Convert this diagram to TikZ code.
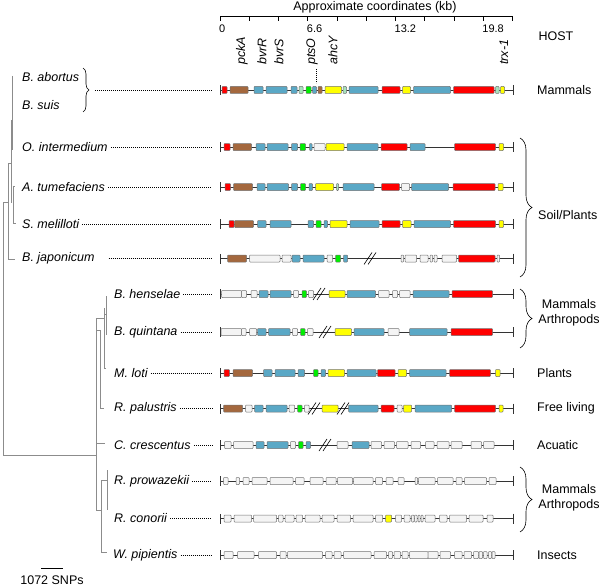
\documentclass[tikz,border=0pt]{standalone}
\usepackage{fontspec}
\setmainfont{Liberation Sans}
\usetikzlibrary{arrows.meta, positioning, decorations.pathreplacing}
\definecolor{gR}{HTML}{FF0000}
\definecolor{gB}{HTML}{5AA8C6}
\definecolor{gN}{HTML}{A4683E}
\definecolor{gY}{HTML}{FFFF00}
\definecolor{gG}{HTML}{00EE00}
\definecolor{gP}{HTML}{A6E3BC}
\definecolor{gW}{HTML}{F4F4F4}
\tikzset{
  gene/.style={draw=black!55, line width=0.5pt, rounded corners=0.8pt},
  backbone/.style={draw=black!80, line width=0.7pt, arrows={Bar[width=10pt]-Bar[width=10pt]}},
  leader/.style={line width=0.6pt, dash pattern=on 0.7pt off 1.3pt, shorten <=3pt, shorten >=7.5pt},
  branch/.style={draw=black!45, line width=0.6pt},
  spec/.style={anchor=west, font=\fontsize{12.5}{15}\selectfont\itshape},
  host/.style={anchor=west},
  grp/.style={decorate, decoration={brace, amplitude=#1}, line width=0.6pt},
  grp/.default=12,
}
% one genome track: name, y, start/end/colour list
\newcommand{\track}[3]{%
  \coordinate (#1) at (219.5,#2);
  \draw[backbone] (#1) -- (514,#2);
  \foreach \a/\b/\c in {#3} \draw[gene, fill=\c] (\a,#2-3.5) rectangle (\b,#2+3.5);
}
\newcommand{\cutmark}[2]{\draw[line width=0.6pt] (#1-7,#2+6) -- (#1+1,#2-6) (#1-3,#2+6) -- (#1+5,#2-6);}

\begin{document}
\begin{tikzpicture}[x=1pt, y=-1pt, every node/.style={font=\fontsize{12.5}{15}\selectfont, inner sep=0pt}]
  \useasboundingbox (0,0) rectangle (603,586);

  % axis
  \node (title) at (375,7) {Approximate coordinates (kb)};
  \draw[line width=0.6pt] (220,16.5) -- (513,16.5);
  \foreach \i in {0,...,10} \draw[line width=0.6pt] (220+29.25*\i,16.5) -- ++(0,4.5);
  \foreach \v [count=\i from 0] in {0,6.6,13.2,19.8}
    \node[anchor=west, font=\fontsize{11}{12}\selectfont] (tick\i) at (219+87.75*\i,29) {\v};
  \node (host) at (556,36) {HOST};

  % gene names
  \foreach \n/\x in {pckA/242, bvrR/262, bvrS/279, ptsO/312, ahcY/333, trx-1/504}
    \node[rotate=90, anchor=west, font=\fontsize{12.5}{15}\selectfont\itshape] (n\n) at (\x,65) {\n};
  \coordinate (pts) at (316,83);
  \draw[line width=0.6pt, dash pattern=on 0.7pt off 1.3pt] (316,69) -- (pts);

  % tracks
  \track{g1}{90}{222/227/gR, 230/248/gN, 254/263/gB, 266/287/gB, 291/297/gB, 299/303/gP, 306/311/gG,
    312.5/316.5/gB, 318/322/gN, 325/341.5/gY, 343/346.5/gP, 349/378/gB, 382/400/gR, 402.5/410.5/gY,
    413.5/450.5/gB, 453.5/494/gR, 495.5/499/gP, 500.5/504.5/gY}
  \track{g2}{147}{224/230/gR, 233/251.5/gN, 256/265/gB, 267/288/gB, 291.5/297.5/gB, 300/305.5/gG,
    309.5/312/gB, 314/325/gW, 326/344/gY, 347/378/gB, 381/407/gR, 410/425/gB, 454.5/495.5/gR, 499/503.5/gY}
  \track{g3}{187}{225/230.5/gR, 233.5/252.5/gN, 257/265/gB, 267/288.5/gB, 291.5/297.5/gB, 300.5/305.5/gG,
    309/312.5/gB, 315.5/333.5/gY, 336.5/338.5/gP, 343/374/gB, 381.5/399.5/gR, 401.5/409.5/gW,
    411.5/448.5/gB, 453/495/gR, 498/503/gY}
  \track{g4}{224}{229/234/gR, 234.5/253.5/gN, 257.5/266/gB, 270/291/gB, 308/313.5/gB, 316/321/gG,
    324/327.5/gB, 330/347/gY, 350/379/gB, 382/400/gR, 402.5/411/gY, 414/450.5/gB, 453.5/495.5/gR, 499/503.5/gY}
  \track{g5}{258.5}{227.5/246.5/gN, 249.5/280/gW, 282/291/gW, 292/300/gB, 303/324/gB, 327/332.5/gW,
    335.5/340.5/gG, 343.5/347.5/gB, 401/403.5/gW, 405/416.5/gW, 420/428/gW, 430/432.5/gW, 434/437/gW,
    442/456.5/gW, 458.5/495/gR, 497/499.5/gW}
  \cutmark{371}{258.5}
  \track{g6}{294}{221.5/241.5/gW, 241.5/246.5/gW, 251/257/gW, 259/268/gB, 270/291/gB, 293.5/298.5/gW,
    302/306.5/gG, 308.5/313.5/gW, 329/345/gY, 347/375.5/gB, 378.5/389/gW, 392.5/397.5/gW, 399.5/410/gW,
    413/449/gB, 452/492.5/gR}
  \cutmark{320}{294}
  \track{g7}{332}{221/241.5/gW, 241.5/246/gW, 249.5/256.5/gW, 257.5/266/gB, 268.5/290/gB, 292.5/297.5/gW,
    300.5/305/gG, 307.5/313/gW, 335/351.5/gY, 354/384/gB, 388/399/gW, 409.5/447/gB, 451/492.5/gR}
  \cutmark{326}{332}
  \track{g8}{373}{224/229.5/gR, 233/252.5/gN, 263.5/272/gB, 275/295/gB, 298/304.5/gB, 313.5/318/gG,
    321/325.5/gB, 328/344.5/gY, 347/376/gB, 377.5/395/gR, 398/406.5/gY, 409.5/446/gB, 449.5/490.5/gR, 495.5/500/gY}
  \track{g9}{408.5}{223.5/242.5/gN, 245.5/252/gW, 254.5/263/gB, 266/287/gB, 289/294.5/gW, 297.5/302/gG,
    304.5/309/gW, 322/338/gY, 348.5/378/gB, 381/394/gR, 397/402/gW, 403.5/411.5/gY, 415/451.5/gB,
    454.5/495.5/gR, 499/503/gY}
  \cutmark{315}{408.5}
  \cutmark{344}{408.5}
  \track{g10}{445}{224.5/231/gW, 233.5/253/gW, 256/264/gB, 267/288/gB, 290.5/295.5/gW, 298.5/303/gG,
    306/310.5/gB, 337/348/gW, 352/369/gB, 371/381.5/gW, 384/394.5/gW, 396.5/408/gW, 411/420.5/gW,
    425.5/434/gW, 437/449/gW, 451/462/gW, 471/481.5/gW, 483.5/494/gW}
  \cutmark{326}{445}
  \track{g11}{481}{223.5/228/gW, 236/239.5/gW, 243/249/gW, 252/267/gW, 270/293/gW, 295.5/304/gW,
    310/323/gW, 326/336/gW, 337.5/352.5/gW, 353.5/373/gW, 375.5/382.5/gW, 386/393/gW, 398/404/gW,
    415/417.5/gW, 418.5/435/gW, 437.5/453/gW, 456/462/gW, 464.5/486.5/gW, 489/496/gW}
  \track{g12}{518.5}{224/231/gW, 234/251.5/gW, 253.5/276.5/gW, 278.5/283/gW, 285/294/gW, 296/302.5/gW,
    305/320/gW, 322/334/gW, 337/350.5/gW, 353/373/gW, 375.5/382.5/gW, 385.5/391.5/gY, 395.5/401.5/gW,
    404/410/gW, 411.5/414/gW, 414.5/417/gW, 418/420/gW, 421/423/gW, 425/435/gW, 439.5/447/gW,
    449.5/466.5/gW, 469/483/gW, 487/493/gW}
  \track{g13}{555}{224/233/gW, 237.5/254/gW, 258.5/276.5/gW, 280/286/gW, 287.5/322.5/gW, 325.5/332/gW,
    334/341/gW, 343.5/371/gW, 374/386.5/gW, 388.5/392.5/gW, 394/400.5/gW, 402/408/gW, 409.5/428/gW,
    428/438/gW, 440/450.5/gW, 454.5/462/gW, 464/471.5/gW, 473.5/478.5/gW, 479/482.5/gW, 483.5/487/gW,
    488.5/491.5/gW, 492/495/gW}

  % species
  \node[spec] (babort) at (22,77) {B. abortus};
  \node[spec] (bsuis) at (22,105) {B. suis};
  \draw[grp=6] (83,68) -- (83,112);
  \coordinate (brutip) at (90,90);
  \draw[leader, shorten <=5pt] (brutip) -- (g1);
  \node[spec] (ointer) at (22,147) {O. intermedium};
  \node[spec] (atumef) at (22,187) {A. tumefaciens};
  \node[spec] (smelil) at (22,224) {S. melilloti};
  \node[spec] (bjapon) at (22,258.5) {B. japonicum};
  \node[spec] (bhense) at (114,294) {B. henselae};
  \node[spec] (bquint) at (114,332) {B. quintana};
  \node[spec] (mloti) at (114,373) {M. loti};
  \node[spec] (rpalus) at (114,408.5) {R. palustris};
  \node[spec] (ccresc) at (114,445) {C. crescentus};
  \node[spec] (rprowa) at (114,481) {R. prowazekii};
  \node[spec] (rconor) at (114,518.5) {R. conorii};
  \node[spec] (wpipie) at (113,555) {W. pipientis};
  \foreach \s/\g in {ointer/g2, atumef/g3, smelil/g4, bhense/g6, bquint/g7, mloti/g8,
    rpalus/g9, ccresc/g10, rprowa/g11, rconor/g12, wpipie/g13}
    \draw[leader] (\s.east) -- (\g);
  \draw[leader, shorten <=14pt] (bjapon.east) -- (g5);

  % tree
  \draw[branch] (12.5,76) -- (12.5,150);
  \draw[branch] (11.5,120) -- (11.5,203);
  \draw[branch] (13,186) -- (15,186) (13,186) -- (13,223) -- (16,223);
  \draw[branch] (8.5,163) -- (11.5,163) (8.5,163) -- (8.5,259) -- (15,259);
  \draw[branch] (3.3,202) -- (8.5,202) (3.3,202) -- (3.3,455) -- (96.7,455);
  \draw[branch] (96.7,318) -- (96.7,510) -- (101.7,510);
  \draw[branch] (96.7,318) -- (104.3,318) (96.7,330) -- (100.7,330);
  \draw[branch] (96.7,443) -- (105,443);
  \draw[branch] (100.7,330) -- (100.7,408) -- (104,408);
  \draw[branch] (104.3,308) -- (104.3,368) -- (106,368) (104.3,314) -- (106,314);
  \draw[branch] (106,296) -- (106,335);
  \draw[branch] (101.7,480) -- (101.7,552) -- (107,552) (101.7,480) -- (107.3,480);
  \draw[branch] (107.3,470) -- (107.3,510);

  % scale
  \draw[line width=0.6pt] (41,568) -- (63,568);
  \node (snps) at (52,580) {1072 SNPs};

  % hosts
  \node[host] (hmam) at (537,90) {Mammals};
  \draw[grp] (520,138) -- (520,277);
  \node[host] (hsoil) at (538,215) {Soil/Plants};
  \draw[grp] (520,289) -- (520,348);
  \node[align=center] (hma1) at (569,313) {Mammals\\Arthropods};
  \node[host] (hpla) at (537,373) {Plants};
  \node[host] (hfree) at (537,408.5) {Free living};
  \node[host] (hacu) at (537,445) {Acuatic};
  \draw[grp] (520,467) -- (520,532);
  \node[align=center] (hma2) at (569,498) {Mammals\\Arthropods};
  \node[host] (hins) at (537,555) {Insects};
\end{tikzpicture}
\end{document}
